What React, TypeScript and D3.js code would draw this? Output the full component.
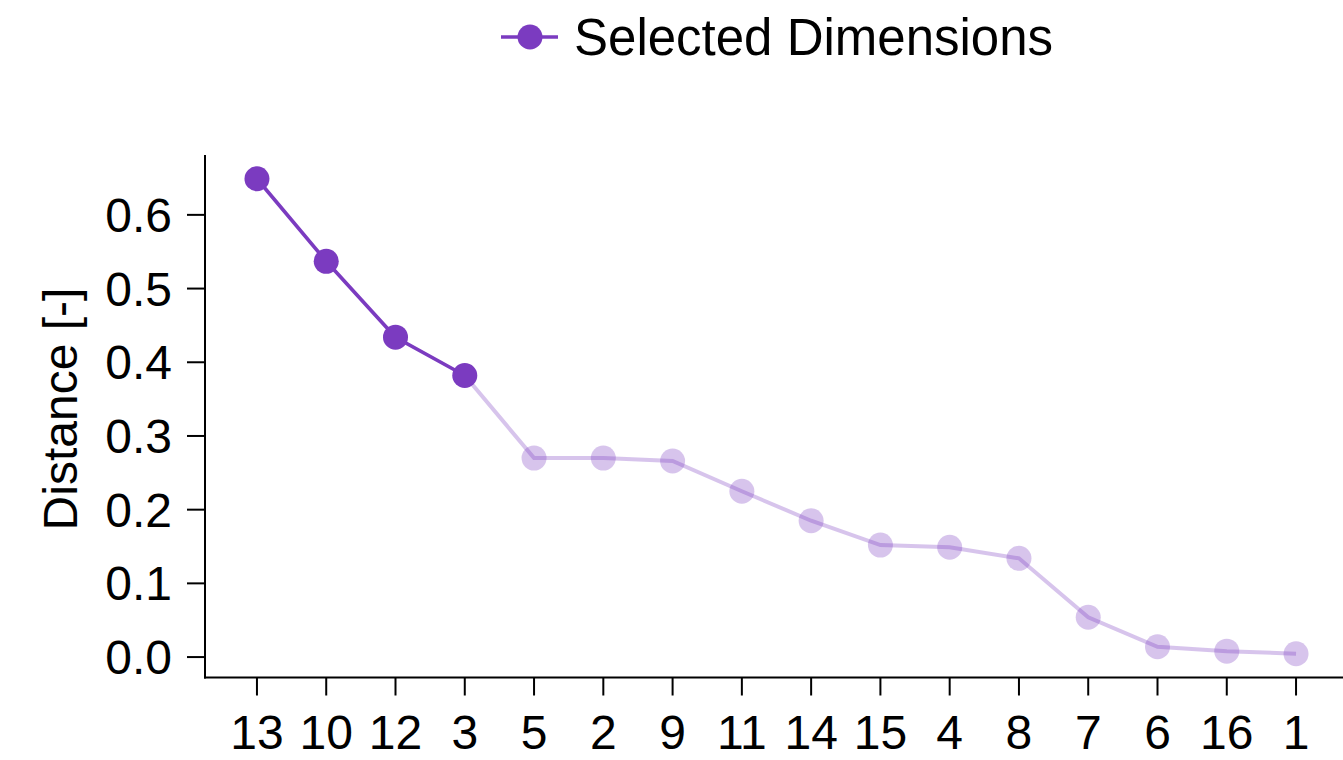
import React from "react";
import * as d3 from "d3";

// Dimension ids ordered by decreasing distance
const dimensions: string[] = ["13", "10", "12", "3", "5", "2", "9", "11", "14", "15", "4", "8", "7", "6", "16", "1"];
const distances: number[] = [0.649, 0.537, 0.434, 0.382, 0.270, 0.270, 0.266, 0.225, 0.185, 0.152, 0.149, 0.134, 0.054, 0.014, 0.008, 0.0045];
const selectedCount = 4;
const yTicks: number[] = [0, 0.1, 0.2, 0.3, 0.4, 0.5, 0.6];
const legendLabel = "Selected Dimensions";
const yLabel = "Distance [-]";

const W = 1343;
const H = 760;
const PURPLE = "#7b3bc0";
const FONT = "'Liberation Sans', Arial, Helvetica, sans-serif";

export default function App() {
  const left = 205;
  const right = 1348;
  const top = 155;
  const bottom = 677.5;

  // index scale with 5% margins on either side of the points
  const n = dimensions.length;
  const x = d3.scaleLinear().domain([-0.05 * (n - 1), (n - 1) * 1.05]).range([left, right]);

  const lo = d3.min(distances) as number;
  const hi = d3.max(distances) as number;
  const pad = 0.05 * (hi - lo);
  const y = d3.scaleLinear().domain([lo - pad, hi + pad]).range([bottom, top]);

  const pts: [number, number][] = distances.map((d, i) => [x(i), y(d)]);
  const line = d3.line<[number, number]>().x((p) => p[0]).y((p) => p[1]);

  const selectedPts = pts.slice(0, selectedCount);
  const restPts = pts.slice(selectedCount - 1);

  return (
    <svg width={W} height={H} style={{ position: "absolute", left: 0, top: 0, background: "#fff" }} fontFamily={FONT}>
      {/* legend */}
      <g>
        <line x1={501} x2={558} y1={37} y2={37} stroke={PURPLE} strokeWidth={3.6} />
        <circle cx={530} cy={37} r={12.5} fill={PURPLE} />
        <text x={574} y={37} dy="0.355em" fontSize={51} fill="#000">
          {legendLabel}
        </text>
      </g>

      {/* faded remainder of the ranking */}
      <path d={line(restPts) || ""} fill="none" stroke={PURPLE} strokeOpacity={0.3} strokeWidth={4} />
      {restPts.slice(1).map((p, i) => (
        <circle key={"r" + i} cx={p[0]} cy={p[1]} r={12.5} fill={PURPLE} fillOpacity={0.3} />
      ))}

      {/* selected dimensions */}
      <path d={line(selectedPts) || ""} fill="none" stroke={PURPLE} strokeWidth={3.6} />
      {selectedPts.map((p, i) => (
        <circle key={"s" + i} cx={p[0]} cy={p[1]} r={12.5} fill={PURPLE} />
      ))}

      {/* axes */}
      <line x1={left} x2={left} y1={top} y2={bottom + 1} stroke="#000" strokeWidth={2} />
      <line x1={left - 1} x2={W} y1={bottom} y2={bottom} stroke="#000" strokeWidth={2} />

      {yTicks.map((t) => (
        <g key={"y" + t} transform={`translate(0,${y(t)})`}>
          <line x1={left - 18} x2={left} stroke="#000" strokeWidth={2} />
          <text x={left - 33} dy="0.355em" textAnchor="end" fontSize={48} fill="#000">
            {d3.format(".1f")(t)}
          </text>
        </g>
      ))}

      {dimensions.map((d, i) => (
        <g key={"x" + d} transform={`translate(${x(i)},0)`}>
          <line y1={bottom} y2={bottom + 18} stroke="#000" strokeWidth={2} />
          <text y={749} textAnchor="middle" fontSize={48} fill="#000">
            {d}
          </text>
        </g>
      ))}

      <text transform={`translate(77,409) rotate(-90)`} textAnchor="middle" fontSize={48} fill="#000">
        {yLabel}
      </text>
    </svg>
  );
}
